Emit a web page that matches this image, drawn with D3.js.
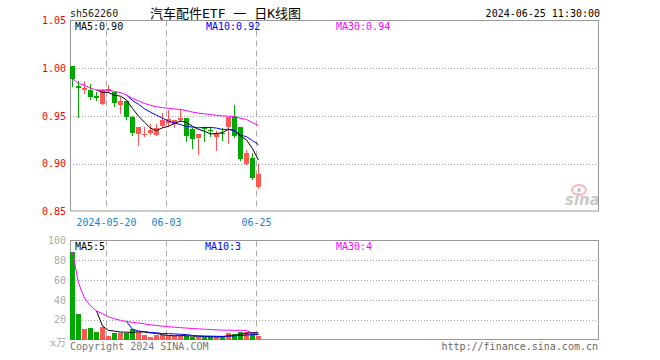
<!DOCTYPE html>
<html>
<head>
<meta charset="utf-8">
<script src="https://cdn.jsdelivr.net/npm/d3@7/dist/d3.min.js"></script>
<style>
  body { margin: 0; background: #fff; }
  text { font-family: "DejaVu Sans Mono", monospace; font-size: 10px; }
</style>
</head>
<body>
<svg id="chart"></svg>
<script>
// trading days shown on the daily K chart
const dates = [
  '2024-05-10', '2024-05-13', '2024-05-14', '2024-05-15', '2024-05-16', '2024-05-17',
  '2024-05-20', '2024-05-21', '2024-05-22', '2024-05-23', '2024-05-24', '2024-05-27',
  '2024-05-28', '2024-05-29', '2024-05-30', '2024-05-31', '2024-06-03', '2024-06-04',
  '2024-06-05', '2024-06-06', '2024-06-07', '2024-06-11', '2024-06-12', '2024-06-13',
  '2024-06-14', '2024-06-17', '2024-06-18', '2024-06-19', '2024-06-20', '2024-06-21',
  '2024-06-24', '2024-06-25'
];
const opens  = [1.002, 0.981, 0.977, 0.977, 0.971, 0.963, 0.976, 0.975, 0.961, 0.966, 0.949, 0.931,
                0.930, 0.932, 0.930, 0.940, 0.943, 0.942, 0.946, 0.948, 0.936, 0.927, 0.939, 0.935,
                0.928, 0.932, 0.938, 0.950, 0.938, 0.900, 0.906, 0.876];
const highs  = [1.002, 0.987, 0.987, 0.983, 0.975, 0.978, 0.982, 0.975, 0.970, 0.966, 0.950, 0.939,
                0.939, 0.942, 0.942, 0.953, 0.956, 0.946, 0.957, 0.948, 0.937, 0.931, 0.939, 0.939,
                0.934, 0.937, 0.949, 0.961, 0.938, 0.914, 0.911, 0.900];
const lows   = [0.981, 0.949, 0.974, 0.968, 0.967, 0.963, 0.975, 0.960, 0.953, 0.947, 0.930, 0.920,
                0.929, 0.931, 0.930, 0.939, 0.940, 0.939, 0.945, 0.924, 0.917, 0.910, 0.924, 0.929,
                0.914, 0.925, 0.922, 0.928, 0.904, 0.900, 0.884, 0.875];
const closes = [0.989, 0.979, 0.979, 0.970, 0.969, 0.977, 0.978, 0.964, 0.966, 0.949, 0.932, 0.939,
                0.931, 0.935, 0.937, 0.946, 0.947, 0.946, 0.948, 0.929, 0.926, 0.931, 0.936, 0.934,
                0.931, 0.931, 0.949, 0.929, 0.905, 0.911, 0.885, 0.889];
// volume, unit 万
const volumes = [88.5, 25.7, 10.7, 11.7, 7.7, 12.3, 3.7, 7.0, 7.0, 7.0, 10.7, 7.7,
                 5.0, 3.0, 4.3, 4.3, 3.7, 3.7, 3.7, 3.7, 2.3, 3.0, 3.0, 2.3,
                 2.3, 3.7, 6.7, 5.7, 7.7, 7.7, 7.7, 4.0];

const priceTicks = [1.05, 1.00, 0.95, 0.90, 0.85];
const volumeTicks = [100, 80, 60, 40, 20];
const dateTicks = ['2024-05-20', '2024-06-03', '2024-06-25'];
const dateTickLabels = ['2024-05-20', '06-03', '06-25'];

const priceLegend = ['MA5:0.90', 'MA10:0.92', 'MA30:0.94'];
const volumeLegend = ['MA5:5', 'MA10:3', 'MA30:4'];

const UP = '#ff5656', DOWN = '#00a800';
const MA_COLORS = ['#000000', '#0000ff', '#ff00ff'];

// moving average; windows shorter than n allowed once minCount points exist
function movingAvg(values, n, minCount) {
  return values.map((v, i) => {
    if (i + 1 < minCount) return null;
    let s = values.slice(Math.max(0, i - n + 1), i + 1);
    return d3.mean(s);
  });
}

const svg = d3.select('#chart').attr('width', 660).attr('height', 360);

const left = 70, right = 598;
const priceTop = 20.5, priceBottom = 211.5;
const volTop = 240.5, volBottom = 339.5;

const x = d3.scaleBand()
    .domain(dates)
    .range([left, left + 6 * dates.length - 1])
    .paddingInner(1 / 6)
    .paddingOuter(0);

const yPrice = d3.scaleLinear().domain([0.85, 1.05]).range([priceBottom, priceTop]);
const yVol = d3.scaleLinear().domain([0, 100]).range([volBottom, volTop]);

// header
svg.append('text').attr('x', 70).attr('y', 17).attr('fill', '#222').text('sh562260');
svg.append('text').attr('x', 150).attr('y', 18)
    .style('font-family', '"DejaVu Sans Mono", "Noto Sans CJK SC"')
    .style('font-size', '13px')
    .text('汽车配件ETF 一 日K线图');
svg.append('text').attr('x', 600).attr('y', 17).attr('text-anchor', 'end').text('2024-06-25 11:30:00');

function panel(yScale, top, bottom, gridValues) {
  let g = svg.append('g');
  g.selectAll('.hgrid').data(gridValues).join('line')
      .attr('x1', left).attr('x2', right)
      .attr('y1', d => Math.round(yScale(d)) + 0.5).attr('y2', d => Math.round(yScale(d)) + 0.5)
      .attr('stroke', '#aaa').attr('stroke-dasharray', '1,2');
  g.selectAll('.vgrid').data(dateTicks).join('line')
      .attr('x1', d => x(d) + 0.5).attr('x2', d => x(d) + 0.5)
      .attr('y1', top).attr('y2', bottom)
      .attr('stroke', '#aaa').attr('stroke-dasharray', '6,4');
  g.append('rect')
      .attr('x', left + 0.5).attr('y', top)
      .attr('width', right - left).attr('height', bottom - top - 0.5)
      .attr('fill', 'none').attr('stroke', '#999');
  return g;
}

// price panel
panel(yPrice, priceTop, priceBottom, [1.00, 0.95, 0.90]);

const priceAxis = svg.append('g')
    .attr('transform', `translate(${left}, 0)`)
    .call(d3.axisLeft(yPrice).tickValues(priceTicks).tickFormat(d3.format('.2f')).tickSize(0).tickPadding(4));
priceAxis.select('.domain').remove();
priceAxis.selectAll('text').attr('fill', '#f00')
    .style('font-family', '"DejaVu Sans Mono", monospace').style('font-size', '10px');

svg.selectAll('.datelabel').data(dateTicks).join('text')
    .attr('x', d => x(d) + 0.5).attr('y', 226)
    .attr('text-anchor', 'middle').attr('fill', '#1680d0')
    .text((d, i) => dateTickLabels[i]);

const candles = svg.append('g').attr('shape-rendering', 'crispEdges');
const bw = x.bandwidth();
candles.selectAll('line').data(dates).join('line')
    .attr('x1', d => x(d) + bw / 2).attr('x2', d => x(d) + bw / 2)
    .attr('y1', (d, i) => Math.round(yPrice(highs[i])))
    .attr('y2', (d, i) => Math.round(yPrice(lows[i])) + 1)
    .attr('stroke', (d, i) => closes[i] >= opens[i] ? UP : DOWN);
candles.selectAll('rect').data(dates).join('rect')
    .attr('x', d => x(d)).attr('width', bw)
    .attr('y', (d, i) => Math.round(yPrice(Math.max(opens[i], closes[i]))))
    .attr('height', (d, i) => Math.max(1, Math.round(yPrice(Math.min(opens[i], closes[i]))) - Math.round(yPrice(Math.max(opens[i], closes[i])))))
    .attr('fill', (d, i) => closes[i] >= opens[i] ? UP : DOWN);

function maLines(values, yScale) {
  let mas = [movingAvg(values, 5, 5), movingAvg(values, 10, 10), movingAvg(values, 30, 1)];
  let line = d3.line()
      .defined(d => d[1] != null)
      .x(d => x(d[0]) + bw / 2)
      .y(d => yScale(d[1]));
  mas.forEach((m, k) => {
    svg.append('path')
        .attr('d', line(dates.map((d, i) => [d, m[i]])))
        .attr('fill', 'none').attr('stroke', MA_COLORS[k]).attr('stroke-width', 1);
  });
}
maLines(closes, yPrice);

svg.selectAll('.plegend').data(priceLegend).join('text')
    .attr('x', (d, i) => [75, 206, 336][i]).attr('y', 30)
    .attr('fill', (d, i) => MA_COLORS[i]).text(d => d);

// logo watermark
const logo = svg.append('g').attr('opacity', 0.45);
logo.append('ellipse').attr('cx', 579).attr('cy', 190).attr('rx', 7).attr('ry', 5)
    .attr('fill', 'none').attr('stroke', '#f55').attr('stroke-width', 2);
logo.append('circle').attr('cx', 579).attr('cy', 190).attr('r', 2).attr('fill', '#888');
logo.append('text').attr('x', 565).attr('y', 205)
    .style('font-family', '"DejaVu Sans"').style('font-size', '15px')
    .style('font-style', 'italic').style('font-weight', 'bold')
    .attr('fill', '#888').text('sina');

// volume panel
panel(yVol, volTop, volBottom + 0.5, [80, 60, 40, 20]);

const volAxis = svg.append('g')
    .attr('transform', `translate(${left}, 0)`)
    .call(d3.axisLeft(yVol).tickValues(volumeTicks).tickSize(0).tickPadding(4));
volAxis.select('.domain').remove();
volAxis.selectAll('text').attr('fill', '#aaa')
    .style('font-family', '"DejaVu Sans Mono", monospace').style('font-size', '10px');
svg.append('text').attr('x', 66).attr('y', 346).attr('text-anchor', 'end')
    .attr('fill', '#aaa').style('font-family', '"DejaVu Serif", "Noto Sans CJK SC"')
    .text('x万');

svg.append('g').attr('shape-rendering', 'crispEdges')
  .selectAll('rect').data(dates).join('rect')
    .attr('x', d => x(d)).attr('width', bw)
    .attr('y', (d, i) => Math.round(yVol(volumes[i])))
    .attr('height', (d, i) => volBottom - Math.round(yVol(volumes[i])))
    .attr('fill', (d, i) => closes[i] >= opens[i] ? UP : DOWN);

maLines(volumes, yVol);

svg.selectAll('.vlegend').data(volumeLegend).join('text')
    .attr('x', (d, i) => [75, 205, 336][i]).attr('y', 250)
    .attr('fill', (d, i) => MA_COLORS[i]).text(d => d);

svg.append('text').attr('x', 70).attr('y', 350).attr('fill', '#777').text('Copyright 2024 SINA.COM');
svg.append('text').attr('x', 598).attr('y', 350).attr('text-anchor', 'end').attr('fill', '#666')
    .text('http://finance.sina.com.cn');
</script>
</body>
</html>
